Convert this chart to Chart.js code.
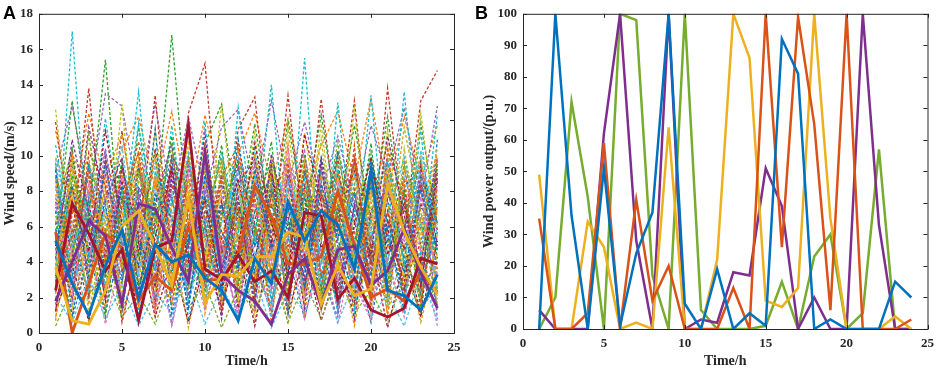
<!DOCTYPE html>
<html>
<head>
<meta charset="utf-8">
<script src="https://cdn.jsdelivr.net/npm/chart.js@4.4.1/dist/chart.umd.min.js"></script>
<style>
  body { margin: 0; background: #fff; width: 941px; height: 370px; overflow: hidden; position: relative; }
  canvas { position: absolute; top: 0; }
  #cA { left: 0; }
  #cB { left: 470px; }
  .etiqueta { position: absolute; top: 4px; font: bold 18px "Liberation Sans", Arial, sans-serif; color: #000; line-height: 18px; }
</style>
</head>
<body>
<canvas id="cA" width="470" height="370"></canvas>
<canvas id="cB" width="471" height="370"></canvas>
<div class="etiqueta" style="left:3px">A</div>
<div class="etiqueta" style="left:475px">B</div>
<script>
// hours of the day
const hours = [1,2,3,4,5,6,7,8,9,10,11,12,13,14,15,16,17,18,19,20,21,22,23,24];

// panel A - highlighted wind speed scenarios (m/s)
const speedRed    = [2.4,7.3,5.6,3.5,4.7,0.7,4.8,5.2,11.7,3.6,3.0,4.4,2.9,3.5,2.0,6.8,6.6,1.9,3.1,1.3,0.9,1.4,4.2,3.9];
const speedBlue   = [5.2,2.8,1.0,3.8,5.8,2.0,5.0,4.0,4.4,3.1,2.4,0.7,4.2,2.8,7.4,5.2,6.9,6.1,3.6,9.1,2.4,2.1,1.3,3.3];
const speedOrange = [5.7,0.0,2.8,5.6,4.8,1.8,3.2,2.4,6.0,3.0,3.0,4.4,8.3,6.6,3.9,3.9,4.3,8.0,5.0,2.0,2.5,1.8,3.4,2.3];
const speedYellow = [3.7,0.7,0.5,2.4,6.0,6.9,4.9,2.7,7.6,1.7,3.3,3.2,4.3,4.3,5.7,5.4,1.6,3.8,2.1,2.5,8.4,5.7,3.7,2.2];
const speedPurple = [1.8,4.0,6.3,5.5,1.6,7.3,7.0,4.8,2.9,10.2,3.3,2.4,1.8,0.5,3.3,4.2,1.5,4.7,4.9,2.7,3.5,5.9,3.4,1.4];

// panel A - background scenarios (dashed)
const speedScenarios = [
  [5.1,8.3,3.2,9.6,4.4,2.1,7.8,6.5,1.3,8.9,5.7,3.6,9.2,4.8,7.1,2.6,8.4,5.3,1.9,9.7,6.2,3.4,8.1,4.7],
  [2.3,6.7,9.1,3.8,7.4,10.2,4.1,1.6,6.9,3.3,8.8,10.6,2.9,7.3,4.6,9.4,3.1,6.8,10.1,2.4,5.9,8.6,1.8,7.2],
  [8.7,1.4,5.6,7.9,2.2,6.3,9.9,3.7,8.2,5.1,1.7,6.4,8.5,2.8,9.8,5.5,1.2,7.7,4.3,6.1,9.3,2.7,5.8,10.4],
  [4.2,10.9,6.8,1.9,9.3,5.4,2.6,8.7,4.9,11.3,3.5,7.6,1.5,10.1,5.9,3.2,9.6,2.4,7.2,4.4,11.1,6.6,3.9,8.8],
  [6.6,3.9,11.2,5.3,1.1,8.9,6.2,10.5,2.7,6.8,9.7,2.3,5.6,8.4,1.6,7.9,5.2,10.8,3.4,8.3,2.1,9.5,6.4,1.6],
  [9.8,5.6,2.4,7.1,10.6,3.3,8.1,4.6,10.3,1.8,6.2,9.1,4.4,0.9,8.6,6.4,2.9,4.1,8.9,5.6,3.7,1.2,10.3,5.5],
  [1.2,7.4,4.6,11.4,6.1,0.8,5.4,9.2,3.9,7.5,2.6,4.8,10.7,6.2,3.3,11.2,7.4,1.7,6.1,9.9,4.4,7.3,2.6,9.1],
  [7.3,2.2,8.5,4.4,8.8,6.7,1.3,6.9,5.8,9.6,4.3,1.1,7.3,3.9,10.4,1.9,6.3,8.6,2.8,0.7,8.2,5.1,7.7,3.2],
  [3.6,9.5,1.1,6.2,3.7,9.7,7.2,2.4,11.6,4.3,7.9,8.3,3.1,9.2,6.8,4.7,10.9,3.6,5.5,7.1,1.6,10.4,4.9,6.3],
  [10.6,4.8,7.3,2.7,5.6,11.8,3.5,7.8,1.9,5.7,10.2,5.7,8.9,1.8,5.2,8.7,4.1,9.4,1.3,6.5,9.8,3.8,11.4,2.4],
  [5.7,1.9,10.2,8.3,0.6,4.7,10.4,5.1,7.4,9.2,1.2,6.9,2.3,7.7,9.6,2.5,7.8,5.9,9.7,3.8,6.9,2.3,8.4,5.8],
  [2.8,8.9,6.1,0.9,7.7,2.6,5.9,11.1,4.5,2.4,6.6,9.8,5.7,10.8,2.7,6.1,1.6,8.1,4.6,10.7,2.9,7.9,1.3,9.6],
  [8.1,6.2,3.7,10.4,4.9,7.8,1.9,4.2,9.4,6.3,8.5,0.8,9.4,4.6,7.9,10.3,3.3,0.9,7.4,5.2,8.7,5.4,9.1,0.8],
  [0.7,10.1,7.9,5.5,9.1,1.4,8.6,2.9,6.2,10.8,3.9,7.2,1.2,6.4,3.1,5.3,8.9,6.4,2.2,8.8,0.9,9.2,5.3,7.4],
  [6.9,3.3,9.4,3.1,2.9,8.2,6.6,9.9,0.7,4.9,7.3,3.9,6.8,8.9,1.1,9.1,5.6,10.3,6.7,3.2,7.5,4.1,2.2,10.9],
  [4.4,7.8,1.6,8.8,11.2,5.9,3.1,7.3,8.6,1.4,9.8,5.1,10.1,3.3,8.2,2.2,6.7,3.8,9.3,6.4,4.6,11.6,6.8,3.5],
  [9.2,0.9,6.5,4.9,5.8,3.8,11.5,1.1,5.3,7.6,2.3,10.9,4.9,7.1,5.8,7.6,1.4,7.2,3.6,9.4,5.6,1.9,8.9,6.1],
  [3.1,5.4,8.8,2.1,7.1,10.8,4.8,8.4,3.4,10.2,5.4,2.6,7.6,0.6,9.4,4.1,8.1,2.3,10.6,1.5,10.3,7.6,3.4,8.2],
  [7.7,9.9,2.9,6.9,1.8,6.6,2.4,6.2,10.7,3.7,8.1,6.3,2.8,9.9,4.3,11.3,5.2,8.8,4.9,7.8,3.2,6.3,10.1,1.9],
  [1.9,4.3,11.6,7.4,9.9,2.4,7.3,10.7,2.1,6.1,0.8,8.4,9.8,5.4,6.6,1.4,9.8,4.9,0.8,6.9,8.1,4.7,5.9,9.3],
  [0.4,2.6,1.1,3.4,0.9,2.2,0.5,3.1,1.4,2.8,0.3,2.5,1.2,3.6,0.6,2.9,0.8,3.3,1.1,2.4,0.5,3.2,1.3,2.7],
  [2.1,0.6,3.2,0.8,2.7,0.4,2.3,1.1,3.4,0.5,2.6,0.9,3.1,0.3,2.4,1.2,3.5,0.6,2.9,0.9,2.2,0.4,3.3,0.7],
  [1.3,3.8,0.7,4.6,1.9,5.1,0.9,4.2,0.6,3.9,1.5,4.8,0.4,5.3,1.1,4.4,0.7,3.7,1.6,4.9,0.3,4.1,0.9,5.2],
  [3.4,1.2,5.3,0.5,4.4,1.7,4.9,0.4,4.6,1.3,5.2,0.6,4.1,1.4,5.6,0.8,4.7,0.5,5.1,1.8,4.3,0.9,4.8,0.4],
  [12.6,4.3,11.2,3.8,12.9,2.6,11.4,5.1,12.1,3.4,12.9,4.6,11.3,2.9,11.6,4.1,11.8,3.7,12.6,4.4,11.5,3.2,12.4,5.3],
  [3.5,17.0,4.2,12.1,5.6,13.6,3.8,11.7,4.4,11.9,2.1,12.7,5.2,14.0,3.4,15.5,2.7,13.0,4.1,13.4,3.6,13.6,4.4,12.3],
  [11.9,5.3,13.8,4.1,11.4,5.4,13.4,3.6,12.4,15.2,4.3,11.5,13.3,4.8,13.4,5.1,13.2,5.8,13.1,4.2,13.8,5.6,13.1,14.8],
  [5.3,13.1,6.6,15.4,4.2,11.6,6.7,16.8,5.9,10.7,12.9,6.1,11.8,6.0,11.9,6.6,12.3,6.4,11.7,6.3,12.2,5.6,11.8,6.1],
  [9.1,12.8,7.6,13.5,12.8,7.4,12.9,7.4,12.2,7.8,11.6,12.6,7.8,13.1,8.4,11.9,7.9,11.1,7.2,11.7,8.8,12.7,7.4,12.8],
  [11.4,6.8,12.4,8.2,10.3,12.2,8.1,12.5,7.1,12.3,8.4,10.1,12.4,8.3,12.1,7.6,10.6,12.5,8.6,13.2,7.9,12.2,8.6,11.7],
  [5.9,2.7,7.6,5.4,3.2,7.9,4.5,6.1,2.8,7.7,4.6,6.8,3.5,5.9,7.4,3.7,6.2,4.3,7.9,2.7,6.1,5.2,3.6,7.5],
  [3.8,6.4,4.2,8.1,5.9,3.5,6.9,2.9,7.7,4.1,5.8,3.3,7.5,4.9,2.6,6.8,4.4,7.4,3.1,5.8,7.3,3.5,6.6,4.3],
  [7.1,4.9,6.3,2.4,8.3,5.1,3.6,7.4,5.5,2.9,7.2,5.4,4.2,8.1,5.3,3.9,7.7,5.6,4.4,8.3,4.9,7.7,2.9,5.7],
  [2.6,8.2,5.5,6.7,3.9,7.3,5.2,4.4,8.6,6.5,3.4,8.1,5.9,3.6,6.9,8.1,2.7,6.6,5.7,3.6,6.8,4.6,8.2,3.6],
  [6.4,3.6,8.3,4.6,6.8,4.1,8.7,5.7,3.2,8.4,6.1,4.2,6.6,7.3,4.1,5.4,8.4,3.4,6.4,7.1,2.8,8.4,5.5,6.6],
  [4.7,7.3,2.8,5.9,7.6,6.2,2.7,8.3,6.9,4.6,8.9,3.4,7.9,5.6,8.8,2.9,5.9,7.9,3.5,8.6,5.4,3.1,7.3,4.9],
  [8.9,5.8,6.9,3.3,6.2,9.1,5.7,3.3,7.1,5.9,4.4,7.7,2.4,6.7,4.5,7.4,6.1,4.5,8.4,4.3,7.8,6.2,4.1,8.7],
  [5.3,2.9,4.9,7.6,4.5,5.7,7.9,4.8,5.9,8.8,2.9,6.1,8.3,3.2,7.6,5.9,3.8,8.3,2.6,6.3,4.1,8.8,5.8,3.1],
  [2.9,6.9,7.4,1.8,8.6,3.6,6.3,9.3,4.2,6.9,5.3,8.7,4.1,9.1,3.2,8.3,4.8,6.8,9.1,4.9,5.9,2.7,9.4,6.2],
  [7.8,4.1,3.4,9.2,5.3,7.1,3.9,5.6,9.1,2.3,7.8,4.6,6.1,2.7,9.9,4.4,7.3,2.8,5.9,9.2,3.3,7.1,4.7,8.3],
  [4.1,9.1,5.8,4.3,2.6,8.6,7.1,1.6,5.1,7.2,9.3,1.9,8.7,6.1,3.8,9.7,1.9,7.7,4.1,7.6,9.2,4.4,1.8,7.9],
  [9.4,3.1,9.6,6.5,7.9,1.9,9.1,6.6,3.8,9.7,1.8,5.6,10.4,4.2,6.4,2.1,9.2,5.3,7.7,1.9,6.7,9.9,6.1,2.8],
  [1.6,5.9,2.1,9.9,3.4,9.6,1.6,10.1,7.9,3.9,6.8,9.6,1.9,8.4,1.4,6.9,5.4,9.9,1.8,5.4,2.4,8.1,2.7,9.8],
  [6.7,10.4,3.9,5.6,9.6,4.4,10.1,2.2,9.9,5.2,10.6,2.8,6.9,9.8,5.6,10.1,2.3,10.2,5.1,10.1,3.7,6.4,9.7,4.2],
  [8.6,1.7,7.1,10.3,1.4,6.9,4.6,9.6,1.6,8.2,3.6,9.4,3.8,1.2,9.1,3.6,8.6,1.3,9.8,3.4,9.6,1.4,8.3,1.2],
  [3.3,7.9,9.9,2.6,6.4,10.3,1.1,7.1,9.8,1.1,6.4,10.3,7.1,4.4,10.7,1.1,6.9,9.1,0.7,7.8,10.6,2.1,7.3,10.1],
  [5.5,0.8,4.4,1.2,5.2,0.9,6.1,0.5,5.3,1.6,4.9,0.6,5.7,1.9,4.4,0.8,5.1,1.5,4.6,0.6,5.9,1.1,4.5,1.6],
  [0.9,4.8,0.6,5.7,0.8,4.6,1.2,5.5,0.3,4.7,1.1,5.6,0.7,4.9,0.5,5.8,1.3,4.7,0.4,5.6,1.1,5.1,0.6,4.4],
  [6.1,9.4,4.3,7.2,2.8,9.3,5.6,3.4,7.7,6.2,1.9,9.3,6.1,2.9,7.3,4.8,9.9,6.1,3.1,9.6,5.2,2.4,7.1,5.9],
  [9.6,2.4,6.7,3.6,9.4,4.9,2.1,9.9,6.5,3.2,8.4,5.3,2.6,7.8,3.7,9.2,3.3,5.4,8.1,2.1,7.7,6.9,3.9,9.4],
  [3.9,6.1,8.9,5.1,4.3,1.6,8.9,4.1,2.4,9.1,5.1,2.9,9.1,5.1,8.1,1.7,7.2,9.6,2.4,6.8,9.9,3.7,6.2,2.6],
  [7.4,4.6,1.9,9.8,6.9,8.1,3.3,8.9,9.6,4.4,3.1,7.1,4.9,9.4,2.1,6.3,4.6,1.9,7.2,4.1,1.8,8.3,9.2,5.1],
  [2.4,8.6,5.1,3.9,8.1,3.1,6.8,2.7,4.9,7.9,9.9,3.7,8.2,3.4,5.7,8.8,2.1,6.2,9.4,5.3,8.4,1.6,4.3,7.7],
  [8.3,3.4,7.9,6.3,2.1,5.8,9.6,6.2,1.4,6.6,4.1,8.6,1.7,6.6,9.2,3.4,8.3,4.4,1.5,8.9,2.6,9.3,6.8,3.3],
  [4.9,10.2,2.6,7.7,9.2,2.9,4.4,9.4,7.3,2.6,7.4,1.4,6.4,9.1,4.9,7.1,5.7,8.9,6.3,2.8,6.3,4.9,1.1,8.6],
  [1.4,5.1,8.1,2.3,4.7,7.6,9.3,1.9,8.8,5.4,2.4,6.4,9.6,2.2,6.9,2.8,9.4,2.9,5.2,7.4,4.1,7.2,9.8,2.1],
  [9.9,7.6,3.3,6.4,5.7,9.9,2.3,5.3,3.1,9.4,6.9,2.1,5.3,7.9,1.9,9.6,3.9,7.3,9.2,1.1,9.4,5.7,2.3,6.9],
  [5.8,1.6,9.6,4.1,8.4,1.1,7.7,8.1,5.8,1.9,8.9,7.9,3.6,1.6,8.4,5.1,6.6,1.1,6.9,6.1,1.4,8.6,7.9,4.6],
  [3.2,9.8,5.9,8.9,1.7,6.4,4.9,2.6,9.3,7.1,1.6,4.9,8.6,5.2,3.6,7.8,1.8,9.1,3.8,9.1,6.4,2.9,5.1,9.9],
  [7.6,5.2,2.2,3.2,9.7,4.3,8.4,6.8,2.6,3.6,9.1,6.6,2.1,8.7,6.2,2.4,9.1,5.8,7.9,3.9,8.9,4.2,8.7,3.8],
  [6.3,2.9,7.2,9.4,3.6,7.2,1.4,9.1,5.2,8.6,3.2,9.9,7.2,2.5,9.9,6.6,4.4,3.2,9.9,5.9,2.2,9.6,3.1,6.4],
  [2.2,7.1,4.8,1.4,6.6,9.4,6.3,3.8,8.4,2.7,7.6,1.7,9.9,4.1,2.3,8.9,7.7,6.9,1.9,8.2,7.1,1.9,6.4,8.9],
  [8.8,4.4,9.3,7.1,1.2,3.9,8.8,7.6,3.3,9.9,4.8,7.4,3.3,9.6,7.1,4.3,2.6,8.1,5.6,3.3,9.7,6.1,9.6,4.9],
  [4.6,8.1,3.6,4.8,7.3,5.6,2.9,4.9,9.9,5.8,2.1,5.9,7.7,1.1,5.4,9.9,6.4,4.1,9.6,6.4,3.4,7.4,2.1,7.1]
];

// panel B - wind power output (p.u.)
const powerBlue   = [0,100,36,0,51,1,24,37,100,8,0,19,0,5,1,92,81,0,3,0,0,0,15,10];
const powerOrange = [35,0,0,5,59,0,41,9,20,0,0,0,13,0,100,26,99,65,6,100,0,0,0,3];
const powerYellow = [49,0,0,34,26,0,2,0,64,0,0,22,100,86,9,7,13,100,35,0,0,0,4,0];
const powerPurple = [6,0,0,0,62,100,28,0,100,0,3,2,18,17,51,39,0,10,0,0,100,33,0,0];
const powerGreen  = [0,10,72,42,0,100,98,17,0,100,6,0,0,0,1,15,0,23,30,0,5,57,0,0];

// colores de las lineas discontinuas
const paleta = ['#0072BD','#D95319','#EDB120','#7E2F8E','#77AC30','#4DBEEE','#A2142F',
  '#E377C2','#BCBD22','#17BECF','#C0392B','#2CA02C','#9467BD','#FF7F0E','#1F77B4','#D4A017'];

const fuenteTicks = { family: '"Liberation Serif", "Times New Roman", serif', size: 13, weight: 'bold' };
const fuenteTitulo = { family: '"Liberation Serif", "Times New Roman", serif', size: 14, weight: 'bold' };

function puntos(valores) {
  return hours.map((h, i) => ({ x: h, y: valores[i] }));
}

// draws the box and the inward tick marks like matlab
const cajaPlugin = {
  id: 'caja',
  afterDraw(chart) {
    const ctx = chart.ctx;
    const a = chart.chartArea;
    const sx = chart.scales.x, sy = chart.scales.y;
    ctx.save();
    ctx.strokeStyle = '#262626';
    ctx.lineWidth = 1;
    ctx.strokeRect(a.left + 0.5, a.top + 0.5, a.right - a.left, a.bottom - a.top);
    ctx.beginPath();
    sx.ticks.forEach(t => {
      const px = Math.round(sx.getPixelForValue(t.value)) + 0.5;
      ctx.moveTo(px, a.bottom); ctx.lineTo(px, a.bottom - 4);
      ctx.moveTo(px, a.top); ctx.lineTo(px, a.top + 4);
    });
    sy.ticks.forEach(t => {
      const py = Math.round(sy.getPixelForValue(t.value)) + 0.5;
      ctx.moveTo(a.left, py); ctx.lineTo(a.left + 4, py);
      ctx.moveTo(a.right, py); ctx.lineTo(a.right - 4, py);
    });
    ctx.stroke();
    ctx.restore();
  }
};

function opciones(cfg) {
  return {
    animation: false,
    responsive: false,
    devicePixelRatio: 1,
    plugins: { legend: { display: false }, tooltip: { enabled: false } },
    layout: { padding: { top: 6, right: cfg.derecha, left: 0, bottom: 0 } },
    elements: { point: { radius: 0 }, line: { tension: 0 } },
    scales: {
      x: {
        type: 'linear', min: 0, max: 25,
        grid: { display: false, drawTicks: false }, border: { display: false },
        ticks: { stepSize: 5, color: '#262626', font: fuenteTicks, padding: 7, maxRotation: 0 },
        title: { display: true, text: 'Time/h', color: '#262626', font: fuenteTitulo, padding: { top: 0, bottom: 0 } },
        afterFit(s) { s.height = cfg.altoX; }
      },
      y: {
        min: 0, max: cfg.maxY,
        grid: { display: false, drawTicks: false }, border: { display: false },
        ticks: { stepSize: cfg.pasoY, color: '#262626', font: fuenteTicks, padding: 6 },
        title: { display: true, text: cfg.tituloY, color: '#262626', font: fuenteTitulo, padding: { top: cfg.padTitulo, bottom: 0 } },
        afterFit(s) { s.width = cfg.anchoY; }
      }
    }
  };
}

// panel A
const gruesasA = [
  { datos: speedBlue, color: '#0072BD' },
  { datos: speedYellow, color: '#EDB120' },
  { datos: speedPurple, color: '#7E2F8E' },
  { datos: speedRed, color: '#A2142F' },
  { datos: speedOrange, color: '#D95319' }
];
const datasetsA = gruesasA.map(g => ({
  data: puntos(g.datos), borderColor: g.color, borderWidth: 2.8, fill: false
}));
speedScenarios.forEach((fila, i) => {
  datasetsA.push({
    data: puntos(fila), borderColor: paleta[i % paleta.length], borderWidth: 1.3,
    borderDash: [3, 2], fill: false
  });
});

new Chart(document.getElementById('cA'), {
  type: 'line',
  data: { datasets: datasetsA },
  options: opciones({ derecha: 16, altoX: 37, anchoY: 39, maxY: 18, pasoY: 2, tituloY: 'Wind speed/(m/s)', padTitulo: 2 }),
  plugins: [cajaPlugin]
});

// panel B
const lineasB = [
  { datos: powerBlue, color: '#0072BD' },
  { datos: powerOrange, color: '#D95319' },
  { datos: powerYellow, color: '#EDB120' },
  { datos: powerPurple, color: '#7E2F8E' },
  { datos: powerGreen, color: '#77AC30' }
];
new Chart(document.getElementById('cB'), {
  type: 'line',
  data: {
    datasets: lineasB.map(l => ({ data: puntos(l.datos), borderColor: l.color, borderWidth: 2.5, fill: false }))
  },
  options: opciones({ derecha: 8, altoX: 41, anchoY: 53, maxY: 100, pasoY: 10, tituloY: 'Wind power output/(p.u.)', padTitulo: 11 }),
  plugins: [cajaPlugin]
});
</script>
</body>
</html>
